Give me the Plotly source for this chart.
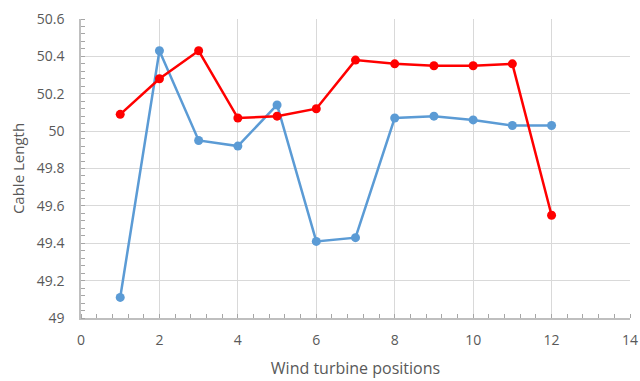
import plotly.graph_objects as go

# Turbine positions and cable lengths for the two layouts
positions = [1, 2, 3, 4, 5, 6, 7, 8, 9, 10, 11, 12]
series_blue = [49.11, 50.43, 49.95, 49.92, 50.14, 49.41, 49.43, 50.07, 50.08, 50.06, 50.03, 50.03]
series_red = [50.09, 50.28, 50.43, 50.07, 50.08, 50.12, 50.38, 50.36, 50.35, 50.35, 50.36, 49.55]

x_ticks = [0, 2, 4, 6, 8, 10, 12, 14]
y_ticks = [49, 49.2, 49.4, 49.6, 49.8, 50, 50.2, 50.4, 50.6]

font_family = "Open Sans, Liberation Sans, sans-serif"
grid_color = "#d9d9d9"
axis_color = "#bfbfbf"
text_color = "#595959"

fig = go.Figure()
fig.add_trace(go.Scatter(
    x=positions, y=series_blue, mode="lines+markers",
    line=dict(color="#5B9BD5", width=2.5),
    marker=dict(color="#5B9BD5", size=9),
    showlegend=False,
))
fig.add_trace(go.Scatter(
    x=positions, y=series_red, mode="lines+markers",
    line=dict(color="#FF0000", width=2.5),
    marker=dict(color="#FF0000", size=9),
    showlegend=False,
))

fig.update_layout(
    width=640, height=381,
    margin=dict(l=81, r=10, t=19, b=63),
    paper_bgcolor="white", plot_bgcolor="white",
    font=dict(family=font_family, color=text_color, size=14),
    xaxis=dict(
        range=[0, 14], tickvals=x_ticks, ticks="",
        showgrid=True, gridcolor=grid_color, gridwidth=1,
        showline=True, linecolor=axis_color, linewidth=1.5,
        zeroline=False, ticklabelstandoff=8, automargin=False,
        minor=dict(tickmode="linear", tick0=0, dtick=0.4, ticks="inside",
                   ticklen=4, tickwidth=1, tickcolor="#a6a6a6", showgrid=False),
        title=dict(text="Wind turbine positions", font=dict(size=16, color=text_color), standoff=15),
    ),
    yaxis=dict(
        range=[49, 50.6], tickvals=y_ticks, ticks="",
        showgrid=True, gridcolor=grid_color, gridwidth=1,
        showline=True, linecolor=axis_color, linewidth=1.5,
        zeroline=False, ticklabelstandoff=12, automargin=False,
        minor=dict(tickmode="linear", tick0=49, dtick=0.04, ticks="inside",
                   ticklen=4, tickwidth=1, tickcolor="#a6a6a6", showgrid=False),
        title=dict(text="Cable Length", font=dict(size=15, color=text_color), standoff=8),
    ),
)

fig.write_html("out.html")
